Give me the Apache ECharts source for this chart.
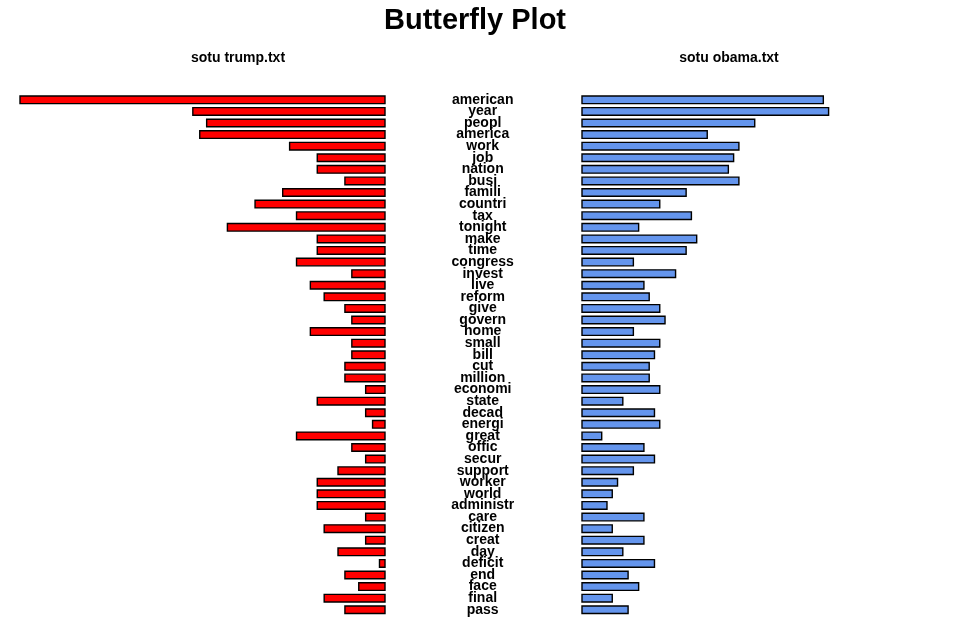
<!DOCTYPE html>
<html>
<head>
  <meta charset="utf-8">
  <title>Butterfly Plot</title>
  <script src="https://cdn.jsdelivr.net/npm/echarts/dist/echarts.min.js"></script>
  <style>
    html, body { margin: 0; padding: 0; background: #fff; }
    #chart { width: 957px; height: 624px; }
  </style>
</head>
<body>
  <div id="chart"></div>
  <script>
    // word stems, top to bottom
    var terms = ['american', 'year', 'peopl', 'america', 'work', 'job', 'nation', 'busi', 'famili',
      'countri', 'tax', 'tonight', 'make', 'time', 'congress', 'invest', 'live', 'reform', 'give',
      'govern', 'home', 'small', 'bill', 'cut', 'million', 'economi', 'state', 'decad', 'energi',
      'great', 'offic', 'secur', 'support', 'worker', 'world', 'administr', 'care', 'citizen',
      'creat', 'day', 'deficit', 'end', 'face', 'final', 'pass'];

    // counts
    var trumpCounts = [53, 28, 26, 27, 14, 10, 10, 6, 15,
      19, 13, 23, 10, 10, 13, 5, 11, 9, 6,
      5, 11, 5, 5, 6, 6, 3, 10, 3, 2,
      13, 5, 3, 7, 10, 10, 10, 3, 9,
      3, 7, 1, 6, 4, 9, 6];
    var obamaCounts = [46, 47, 33, 24, 30, 29, 28, 30, 20,
      15, 21, 11, 22, 20, 10, 18, 12, 13, 15,
      16, 10, 15, 14, 13, 13, 15, 8, 14, 15,
      4, 12, 14, 10, 7, 6, 5, 12, 6,
      12, 8, 14, 9, 11, 6, 9];

    var leftTitle = 'sotu trump.txt';
    var rightTitle = 'sotu obama.txt';
    var font = 'Liberation Sans, Arial, sans-serif';

    var chart = echarts.init(document.getElementById('chart'));

    var rowH = 11.59;
    var gridTop = 94;
    var gridH = rowH * terms.length;

    var option = {
      animation: false,
      backgroundColor: '#ffffff',
      graphic: [
        { type: 'text', x: 475, y: 21, style: { text: 'Butterfly Plot', font: 'bold 29px ' + font, fill: '#000', textAlign: 'center', textVerticalAlign: 'middle' } },
        { type: 'text', x: 238, y: 58, style: { text: leftTitle, font: 'bold 14px ' + font, fill: '#000', textAlign: 'center', textVerticalAlign: 'middle' } },
        { type: 'text', x: 729, y: 58, style: { text: rightTitle, font: 'bold 14px ' + font, fill: '#000', textAlign: 'center', textVerticalAlign: 'middle' } }
      ],
      grid: [
        { left: 19.3, top: gridTop, width: 366.4, height: gridH },
        { left: 581.3, top: gridTop, width: 248, height: gridH }
      ],
      xAxis: [
        { gridIndex: 0, type: 'value', min: 0, max: 53, inverse: true, show: false },
        { gridIndex: 1, type: 'value', min: 0, max: 47, show: false }
      ],
      yAxis: [
        {
          gridIndex: 0, type: 'category', data: terms, inverse: true, position: 'right',
          axisLine: { show: false }, axisTick: { show: false }, splitLine: { show: false },
          axisLabel: {
            interval: 0, margin: 97, align: 'center', color: '#000',
            fontFamily: font, fontWeight: 'bold', fontSize: 14
          }
        },
        {
          gridIndex: 1, type: 'category', data: terms, inverse: true, show: false
        }
      ],
      series: [
        {
          type: 'bar', xAxisIndex: 0, yAxisIndex: 0, data: trumpCounts, barWidth: 9,
          itemStyle: { color: '#ff0000', borderColor: '#000', borderWidth: 1.4 }
        },
        {
          type: 'bar', xAxisIndex: 1, yAxisIndex: 1, data: obamaCounts, barWidth: 9,
          itemStyle: { color: '#6495ed', borderColor: '#000', borderWidth: 1.4 }
        }
      ]
    };

    chart.setOption(option);
  </script>
</body>
</html>
